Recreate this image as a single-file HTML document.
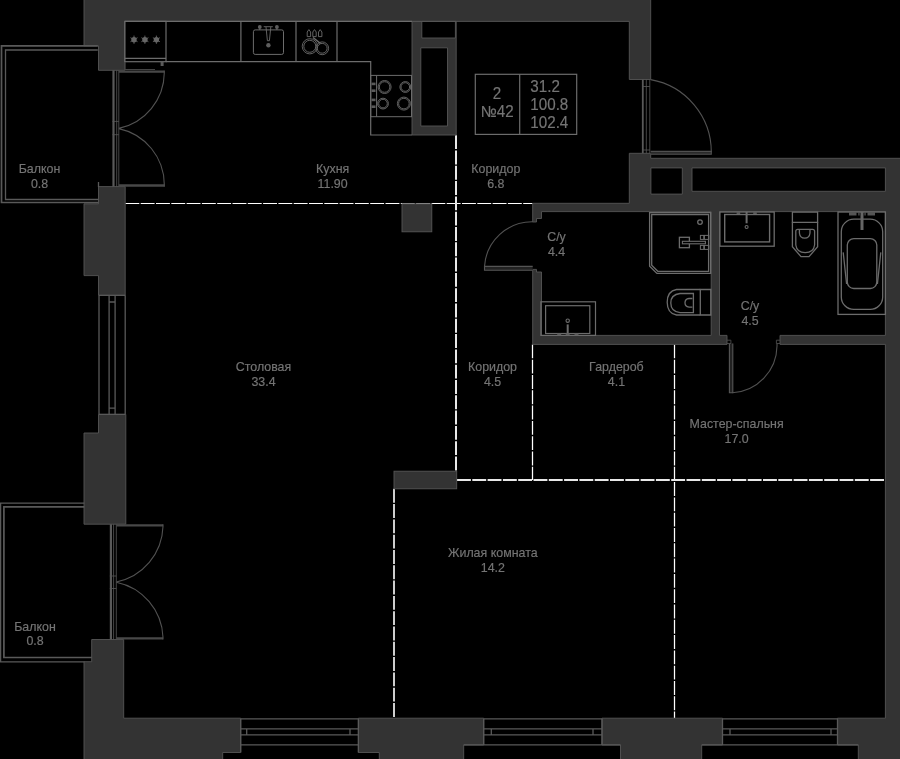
<!DOCTYPE html>
<html lang="ru">
<head>
<meta charset="utf-8">
<title>План квартиры №42</title>
<style>
html,body{margin:0;padding:0;background:#000;}
body{width:900px;height:759px;overflow:hidden;font-family:"Liberation Sans",sans-serif;}
svg{display:block;}
.bl{filter:blur(.3px);}
.w{fill:#333;stroke:#4a4a4a;stroke-width:.8;}
.l{fill:none;stroke:#6c6c6c;stroke-width:1.2;}
.a{fill:none;stroke:#595959;stroke-width:1.3;}
.d{fill:none;stroke:#fff;stroke-dasharray:13.9 1.4;}
text{font-family:"Liberation Sans",sans-serif;fill:#747474;stroke:#747474;stroke-width:.18;text-anchor:middle;}
.s{font-size:13px;}
.b{font-size:16px;}
</style>
</head>
<body>
<svg width="900" height="759" viewBox="0 0 900 759">
<rect width="900" height="759" fill="#000"/>

<!-- ===== DASHED ZONE LINES ===== -->
<g class="d">
<path d="M125.4 203.5 H532.7" stroke-width="1.15"/>
<path d="M456 135.2 V471.2" stroke-width="2" stroke="#e8e8e8"/>
<path d="M532.5 344.4 V480" stroke-width="1.25"/>
<path d="M674.5 344.4 V718" stroke-width="1.25"/>
<path d="M457 480 H885.4" stroke-width="2" stroke="#e8e8e8"/>
<path d="M394 488.8 V718" stroke-width="1.8" stroke="#e4e4e4"/>
</g>

<!-- ===== WALLS ===== -->
<defs>
<g id="walls">
<path d="M84 -2 H650.7 V79.5 H629.3 V21.4 H124.8 V70.3 H98.5 V45.8 H84 Z"/>
<path fill-rule="evenodd" d="M412 21.4 H456.2 V135 H412 Z M421.8 21.4 H455.4 V38 H421.8 Z M420.8 47.8 H447.5 V126 H420.8 Z"/>
<path d="M98.5 186.6 H125.2 V295.3 H98.5 V275.6 H84 V203.8 H98.5 Z"/>
<path d="M98.5 414.4 H125.8 V524.2 H84 V433 H98.5 Z"/>
<path d="M84 661.7 H91.7 V639.5 H123.7 V718.2 H240.7 V752.5 H222.7 V761 H84 Z"/>
<path d="M358.4 718.2 H483.7 V745 H463.7 V761 H379.3 V752.5 H358.4 Z"/>
<path d="M602 718.2 H722.5 V745 H701.7 V761 H620.5 V745 H602 Z"/>
<path fill-rule="evenodd" d="M837.5 718.2 H885.4 V344.4 H780 V335.4 H885.4 V211.6 H719.5 V335.4 H727 V344.4 H532.7 V269.4 H536.5 V272 H541.5 V335.4 H711.2 V211.6 H541.5 V218.5 H536.5 V222 H532.7 V203.3 H629.3 V153.3 H650.7 V158.3 H902 V761 H858.3 V745 H837.5 Z M650.9 167.9 H682.3 V194.1 H650.9 Z M692 167.9 H885.4 V191.3 H692 Z"/>
<rect x="402" y="203.8" width="29.8" height="28"/>
<rect x="394" y="471.2" width="62.7" height="17.6"/>
</g>
</defs>
<g class="bl">
<use href="#walls" fill="#333" stroke="none"/>
<use href="#walls" fill="none" stroke="#565656" stroke-width=".9"/>
</g>

<g class="bl">
<!-- ===== BALCONIES, WINDOWS, DOORS ===== -->
<g class="a">
<!-- balcony 1 -->
<path d="M97.8 45.8 H1.5 V202.5 H98.5" stroke-width="1.7"/>
<path d="M97.8 50 H5.5 V199.5 H98.5"/>
<path d="M98.5 182 V187"/>
<!-- balcony 2 -->
<path d="M84.3 503.2 H0.6 V661.8 H84.3"/>
<path d="M84.3 506.9 H3.9 V657.5 H91.7" stroke-width="1.7"/>
<!-- left window -->
<path d="M99 295.3 V414.4 M109.1 295.3 V414.4 M115.1 295.3 V414.4 M125.2 295.3 V414.4 M99 295.3 H125.2 M99 414.4 H125.2 M109.1 302 H115.1 M109.1 408.1 H115.1"/>
<!-- bottom windows -->
<path d="M240.7 718.8 H358.4 M240.7 728.9 H358.4 M240.7 734.9 H358.4 M240.7 744.9 H358.4 M246.7 728.9 V734.9 M350 728.9 V734.9 M240.7 718.8 V752.5 M358.4 718.8 V752.5"/>
<path d="M483.7 718.8 H602 M483.7 728.9 H602 M483.7 734.9 H602 M463.7 744.9 H620.5 M491.3 728.9 V734.9 M593 728.9 V734.9 M483.7 718.8 V745 M602 718.8 V745"/>
<path d="M722.5 718.8 H837.5 M722.5 728.9 H837.5 M722.5 734.9 H837.5 M701.7 744.9 H858.3 M730 728.9 V734.9 M831 728.9 V734.9 M722.5 718.8 V745 M837.5 718.8 V745"/>
<!-- balcony door 1 -->
<path d="M113.5 70.3 V186.6" stroke-width="2.2"/>
<path d="M116.7 70.3 V186.6 M118.8 70.3 V186.6 M112.4 121.4 H118.8 M112.4 134.7 H118.8" stroke-width=".8"/>
<path d="M118.8 71.6 H164.3 M118.8 185.5 H164.3" stroke-width="2.4" stroke="#484848"/>
<path d="M164.3 70.4 V72.8 A57.4 57.4 0 0 1 118.8 128.4 M164.3 186.7 V184.5 A57.4 57.4 0 0 0 118.8 128.6" stroke-width="1.1" stroke="#525252"/>
<!-- balcony door 2 -->
<path d="M110.9 524.2 V639.5" stroke-width="2.2"/>
<path d="M113.6 524.2 V639.5 M116.3 524.2 V639.5 M109.8 576 H116.3 M109.8 588.5 H116.3" stroke-width=".8"/>
<path d="M116.3 525.4 H163 M116.3 638.4 H163" stroke-width="2.4" stroke="#484848"/>
<path d="M163 524.2 V526.6 A58.4 58.4 0 0 1 116.3 582 M163 639.6 V637.3 A58.4 58.4 0 0 0 116.3 582.2" stroke-width="1.1" stroke="#525252"/>
<!-- entry door -->
<path d="M642.8 79.5 V153.3" stroke-width="1.8"/>
<path d="M646.3 79.5 V153.3 M649.8 79.5 V153.3 M642.8 86.5 H649.8 M642.8 150 H649.8" stroke-width=".8"/>
<path d="M650.7 151.4 H711.3 V154.3 H650.7" stroke-width="1.1" stroke="#505050" fill="#2a2a2a"/>
<path d="M711.3 152 A73.5 73.5 0 0 0 650.7 79.6" stroke-width="1.1" stroke="#525252"/>
<!-- bathroom 1 door -->
<path d="M532.7 266.4 H484.5 V270.2 H532.7" stroke-width="1.1" stroke="#555" fill="#222"/>
<path d="M484.5 266.4 A47.8 47.8 0 0 1 533 221.7" stroke-width="1.1" stroke="#525252"/>
<!-- bathroom 2 door -->
<path d="M729.4 343.5 V392.8 H732.8 V343.5" stroke-width="1.1" stroke="#555" fill="#222"/>
<path d="M732.4 392.8 A47.5 47.5 0 0 0 777 346 V343.5" stroke-width="1.1" stroke="#525252"/>
<path d="M727 340.2 H730.9 V343.5 H727 M780 340.2 H776.4 V343.5 H780" stroke-width=".9" stroke="#4c4c4c"/>
</g>

<!-- ===== KITCHEN ===== -->
<g class="l">
<path d="M124.8 21.4 H412"/>
<path d="M166 61.7 H370.7 V135 H412"/>
<path d="M240.9 21.4 V61.7 M296 21.4 V61.7 M337 21.4 V61.7"/>
<rect x="124.8" y="21.4" width="41.2" height="40.3"/>
<path d="M124.8 58.3 H166"/><path d="M125 62 V69.5 H155" stroke="#444" stroke-width="1"/>
<rect x="160.6" y="62" width="3" height="4" fill="#5a5a5a" stroke="none"/>
<!-- hob -->
<rect x="370.7" y="75.4" width="40.8" height="41.3" stroke-width="1"/>
<path d="M376.6 75.4 V116.7" stroke-width="1"/>
<g stroke-width=".9">
<circle cx="384.6" cy="87" r="6.5"/><circle cx="384.6" cy="87" r="5.3"/>
<circle cx="405.3" cy="87" r="5.4"/><circle cx="405.3" cy="87" r="4.3"/>
<circle cx="383" cy="103.6" r="5.4"/><circle cx="383" cy="103.6" r="4.3"/>
<circle cx="403.9" cy="103.6" r="6.5"/><circle cx="403.9" cy="103.6" r="5.3"/>
</g>
<g fill="#5a5a5a" stroke="none">
<rect x="371.5" y="82.6" width="4" height="2.6"/><rect x="371.5" y="89.4" width="4" height="2.6"/>
<rect x="371.5" y="98.6" width="4" height="2.6"/><rect x="371.5" y="105.4" width="4" height="2.6"/>
</g>
<!-- kitchen sink -->
<rect x="253.4" y="29.9" width="30.1" height="24.5" rx="1.8" stroke-width="1"/>
<path d="M263.7 26.7 H272.8 M266 27 L267.4 40.7 H269.4 L270.8 27" stroke-width=".9"/>
<circle cx="259.8" cy="27" r="1.9" fill="#5e5e5e" stroke="none"/><circle cx="276.9" cy="27" r="1.9" fill="#5e5e5e" stroke="none"/>
<path d="M259.8 28.5 V30 M276.9 28.5 V30" stroke-width=".9"/>
<circle cx="268.4" cy="45.2" r="2.2" fill="#5e5e5e" stroke="none"/>
<!-- dishwasher icon -->
<g stroke-width=".9">
<circle cx="309.8" cy="46.3" r="7.6"/><circle cx="309.8" cy="46.3" r="6"/>
<circle cx="322.2" cy="48.3" r="6.4"/><circle cx="322.2" cy="48.3" r="4.9"/>
<path d="M307.2 36.6 V32 L308.9 29.6 L310.6 32 V36.6 Z M312.8 36.6 V32 L314.5 29.6 L316.2 32 V36.6 Z M318.5 36.6 V32 L320.2 29.6 L321.9 32 V36.6 Z"/>
<path d="M313 37.5 L320.5 43.5" stroke-width="1.6"/>
</g>
<!-- freezer stars -->
<g stroke-width=".9" stroke="#6a6a6a">
<path id="sf" d="M134 35.6 V43.8 M130.5 37.7 L137.5 41.7 M130.5 41.7 L137.5 37.7"/>
<use href="#sf" x="10.9"/><use href="#sf" x="22.4"/>
</g>
<g fill="#666" stroke="none"><circle cx="134" cy="39.7" r="2.7"/><circle cx="144.9" cy="39.7" r="2.7"/><circle cx="156.4" cy="39.7" r="2.7"/></g>
</g>

<!-- ===== INFO BOX ===== -->
<g class="l" stroke-width="1.1">
<rect x="475.3" y="74.3" width="101.4" height="60.1"/>
<path d="M519.7 74.3 V134.4"/>
</g>

<!-- ===== BATHROOM 1 ===== -->
<g class="l">
<!-- wash basin -->
<rect x="540.9" y="301.8" width="54.6" height="33.6"/>
<rect x="545.6" y="305.7" width="44.2" height="27.8"/>
<path d="M567.7 324.4 V333.4" stroke-width="2"/>
<circle cx="567.7" cy="320.7" r="1.7" stroke-width="1.1"/>
<path d="M557.2 334.4 H561.2 M565.7 334.4 H569.7 M574.5 334.4 H578.5" stroke-width="1.8" stroke="#5a5a5a"/>
<!-- shower tray -->
<path d="M649.6 212.6 H710.6 V273.4 H656.9 L649.6 266.2 Z" stroke-width="1.3"/>
<path d="M651.7 214.5 H708.6 V271.3 H657.8 L651.7 265.3 Z" stroke-width="1.3"/>
<circle cx="700" cy="222.1" r="2.3" stroke-width="1.3"/>
<rect x="679.4" y="237.3" width="10" height="10.4" stroke-width="1.3"/>
<rect x="682.4" y="241.3" width="23" height="2.5" fill="#000" stroke-width="1.1"/>
<g stroke-width="1"><rect x="700.4" y="235.4" width="3.4" height="4"/><rect x="704.4" y="235.4" width="4.4" height="4"/><rect x="700.4" y="245.4" width="3.4" height="4"/><rect x="704.4" y="245.4" width="4.4" height="4"/></g>
<!-- toilet 1 -->
<g stroke-width="1.3">
<path d="M700.3 289.5 H710.8 V315 H700.3 Z"/>
<path d="M700.3 289.5 H676.5 Q667.2 291 667.2 302.3 Q667.2 313.5 676.5 315 H700.3"/>
<path d="M693.4 293.5 H680 Q670.8 294.5 670.8 303 Q670.8 311.6 680 312.6 H693.4 Z"/>
<path d="M692.4 298.5 H689 Q685 298.8 685 302.8 Q685 306.8 689 307.1 H692.4"/>
</g>
</g>

<!-- ===== BATHROOM 2 ===== -->
<g class="l">
<!-- wash basin -->
<rect x="719.9" y="212" width="54.3" height="34.2" stroke-width="1.3"/>
<rect x="724.7" y="214.5" width="44.9" height="27.4" stroke-width="1.4"/>
<path d="M746.6 212 V223.3" stroke-width="2"/>
<path d="M736.6 213 H740.2 M753.2 213 H756.8" stroke-width="1.8" stroke="#5a5a5a"/>
<circle cx="746.6" cy="227" r="1.5" stroke-width="1.1"/>
<!-- toilet 2 -->
<g stroke-width="1.3">
<path d="M792.4 212.2 V222.3 H817.6 V212.2 Z"/>
<path d="M792.4 222.3 V246.8 L801 256.6 H809 L817.6 246.8 V222.3"/>
<path d="M795.8 231.3 Q795.8 229.4 797.8 229.4 H812.6 Q814.6 229.4 814.6 231.3 V245 Q813.6 252.6 805.2 252.6 Q796.8 252.6 795.8 245 Z"/>
<path d="M799.4 229.4 V233 Q800 238.2 804.7 238.2 Q809.4 238.2 810 233 V229.4"/>
</g>
<!-- bathtub -->
<g stroke-width="1.3">
<rect x="838" y="212" width="47.4" height="102.4"/>
<rect x="841.3" y="219.2" width="41.4" height="90.2" rx="12.5" ry="12.5"/>
<rect x="847.3" y="238.6" width="29.5" height="49.9" rx="6.5" ry="6.5"/>
<path d="M843.2 252.4 L846.6 284 M880.8 252.4 L877.4 284"/>
</g>
<path d="M862 212 V230" stroke-width="3" stroke="#666"/>
<path d="M849 213.8 H856.5 M858.3 213.8 H859.6 M864.4 213.8 H865.7 M867.5 213.8 H875" stroke-width="3.4" stroke="#555"/>
</g>

<!-- ===== LABELS ===== -->
<g class="s">
<text transform="translate(39.5 172.7) scale(.955 1)">Балкон</text><text transform="translate(39.5 187.7) scale(.955 1)">0.8</text>
<text transform="translate(332.6 172.7) scale(.955 1)">Кухня</text><text transform="translate(332.6 187.7) scale(.955 1)">11.90</text>
<text transform="translate(495.8 172.7) scale(.955 1)">Коридор</text><text transform="translate(495.8 187.7) scale(.955 1)">6.8</text>
<text transform="translate(556.5 240.7) scale(.955 1)">С/у</text><text transform="translate(556.5 255.5) scale(.955 1)">4.4</text>
<text transform="translate(750 309.7) scale(.955 1)">С/у</text><text transform="translate(750 324.7) scale(.955 1)">4.5</text>
<text transform="translate(263.5 371.3) scale(.955 1)">Столовая</text><text transform="translate(263.5 386) scale(.955 1)">33.4</text>
<text transform="translate(492.5 371.2) scale(.955 1)">Коридор</text><text transform="translate(492.5 385.8) scale(.955 1)">4.5</text>
<text transform="translate(616.4 371.2) scale(.955 1)">Гардероб</text><text transform="translate(616.4 385.8) scale(.955 1)">4.1</text>
<text transform="translate(736.6 427.8) scale(.955 1)">Мастер-спальня</text><text transform="translate(736.6 442.7) scale(.955 1)">17.0</text>
<text transform="translate(492.8 556.7) scale(.955 1)">Жилая комната</text><text transform="translate(492.8 571.6) scale(.955 1)">14.2</text>
<text transform="translate(35 630.7) scale(.955 1)">Балкон</text><text transform="translate(35 645.3) scale(.955 1)">0.8</text>
</g>
<g class="b">
<text transform="translate(497 98.7) scale(.95 1)">2</text><text transform="translate(497 116.7) scale(.95 1)">№42</text>
<text style="text-anchor:start" transform="translate(530.3 92) scale(.95 1)">31.2</text><text style="text-anchor:start" transform="translate(530.3 109.8) scale(.95 1)">100.8</text><text style="text-anchor:start" transform="translate(530.3 127.5) scale(.95 1)">102.4</text>
</g>
</g>
</svg>
</body>
</html>
